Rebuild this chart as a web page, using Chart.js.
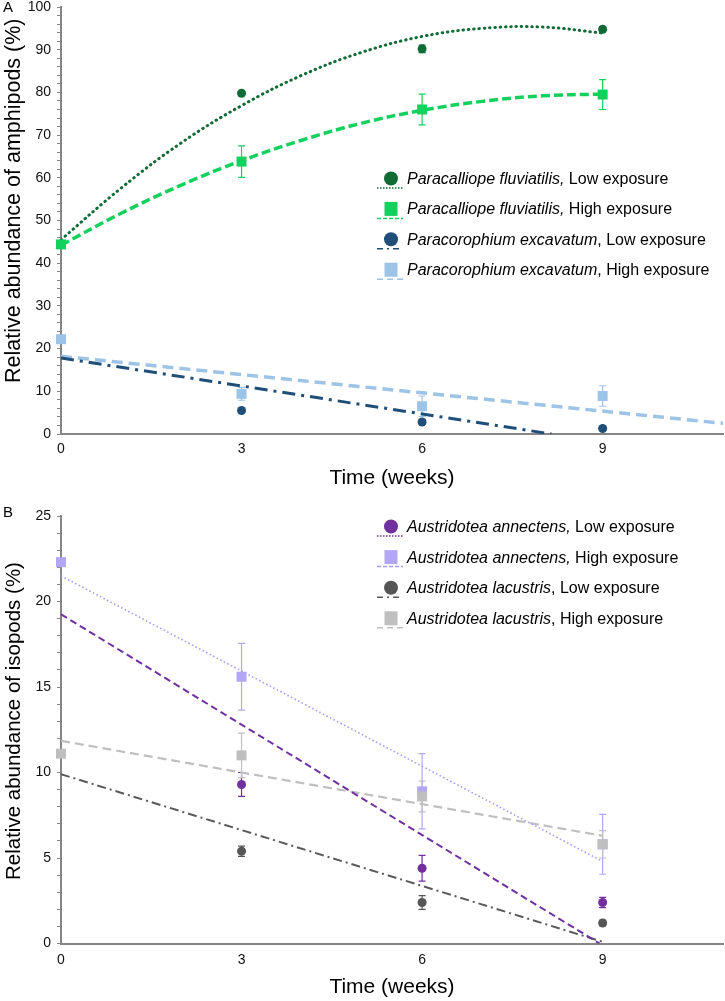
<!DOCTYPE html>
<html>
<head>
<meta charset="utf-8">
<script src="https://cdn.jsdelivr.net/npm/chart.js@4.4.1/dist/chart.umd.min.js"></script>
<style>
  html, body { margin: 0; padding: 0; background: #fff; }
  #wrap { position: relative; width: 725px; height: 1001px; }
  #chartA { position: absolute; left: 0; top: 0; }
  #chartB { position: absolute; left: 0; top: 500px; }
</style>
</head>
<body>
<div id="wrap">
  <canvas id="chartA" width="725" height="495"></canvas>
  <canvas id="chartB" width="725" height="501"></canvas>
</div>
<script>
// Sampling weeks and x tick labels
const weeks = [0, 3, 6, 9];
const xTicks = [0, 3, 6, 9];
const trendWeeks = [0, 1, 2, 3, 4, 5, 6, 7, 8, 9];

// Panel A - amphipods (%), with +/- error
const fluvLow = [44.5, 79.8, 90.2, 94.8];
const fluvLowErr = [0, 0.5, 0.9, 0.6];
const fluvLowTrend = [45.5, 57.6, 68.2, 76.9, 84.0, 89.4, 93.1, 95.0, 95.3, 93.9];

const fluvHigh = [44.4, 63.8, 76.0, 79.5];
const fluvHighErr = [0, 3.7, 3.6, 3.5];
const fluvHighTrend = [44.2, 51.7, 58.3, 64.0, 68.8, 72.8, 75.8, 77.9, 79.2, 79.6];

const excavLow = [22.2, 5.5, 2.8, 1.3];
const excavLowErr = [0, 0.5, 0.5, 0.3];
const excavLowTrendX = [0, 8.15];
const excavLowTrend = [17.8, 0];

const excavHigh = [22.2, 9.4, 6.5, 8.9];
const excavHighErr = [0, 1.5, 2.4, 2.4];
const excavHighTrendX = [0, 11];
const excavHighTrend = [18.2, 2.5];

// Panel B - isopods (%)
const annLow = [22.3, 9.3, 4.4, 2.4];
const annLowErr = [0, 0.7, 0.75, 0.3];
const annLowTrendX = [0, 8.95];
const annLowTrend = [19.25, 0];

const annHigh = [22.3, 15.6, 8.9, 5.8];
const annHighErr = [0, 1.95, 2.2, 1.75];
const annHighTrendX = [0, 9];
const annHighTrend = [21.5, 4.8];

const lacLow = [11.1, 5.4, 2.4, 1.2];
const lacLowErr = [0, 0.3, 0.4, 0.15];
const lacLowTrendX = [0, 9];
const lacLowTrend = [9.9, 0.1];

const lacHigh = [11.1, 11.0, 8.6, 5.8];
const lacHighErr = [0, 1.3, 0.9, 0.8];
const lacHighTrendX = [0, 9];
const lacHighTrend = [11.85, 6.3];

const FONT = "'Liberation Sans', Arial, sans-serif";
const AXIS_GREY = '#868686';

function toPoints(xs, ys) {
  return xs.map((x, i) => ({ x: x, y: ys[i] }));
}

// draws +/- error bars under the markers
const errorBarPlugin = {
  id: 'errorBars',
  beforeDatasetsDraw(chart) {
    const ctx = chart.ctx;
    const xs = chart.scales.x;
    const ys = chart.scales.y;
    chart.data.datasets.forEach(ds => {
      if (!ds.errors) return;
      ctx.save();
      ctx.strokeStyle = ds.backgroundColor;
      ctx.lineWidth = 1.2;
      ds.data.forEach((p, i) => {
        const e = ds.errors[i];
        if (!e) return;
        const px = xs.getPixelForValue(p.x);
        const top = ys.getPixelForValue(p.y + e);
        const bot = ys.getPixelForValue(Math.max(p.y - e, 0));
        ctx.beginPath();
        ctx.moveTo(px, top); ctx.lineTo(px, bot);
        ctx.moveTo(px - 3.5, top); ctx.lineTo(px + 3.5, top);
        ctx.moveTo(px - 3.5, bot); ctx.lineTo(px + 3.5, bot);
        ctx.stroke();
      });
      ctx.restore();
    });
  }
};

// panel letter, y title and legend with italic species names
const legendPlugin = {
  id: 'speciesLegend',
  afterDraw(chart, args, opts) {
    const ctx = chart.ctx;
    ctx.save();
    ctx.fillStyle = '#000';
    ctx.font = '15px ' + FONT;
    ctx.textBaseline = 'middle';
    ctx.textAlign = 'left';
    ctx.fillText(opts.letter, 3, opts.letterY);

    // rotated y-axis title
    ctx.save();
    ctx.font = opts.yTitleSize + 'px ' + FONT;
    ctx.textBaseline = 'alphabetic';
    ctx.translate(20, opts.yTitleStart);
    ctx.rotate(-Math.PI / 2);
    ctx.fillText(opts.yTitle, 0, 0);
    ctx.restore();

    opts.items.forEach((it, i) => {
      const y = opts.y + i * opts.spacing;
      const mx = opts.x;
      // line sample
      ctx.strokeStyle = it.lineColor;
      ctx.lineWidth = 1.5;
      ctx.setLineDash(it.legendDash);
      ctx.beginPath();
      ctx.moveTo(mx - 14, y + 8.5);
      ctx.lineTo(mx + 12, y + 8.5);
      ctx.stroke();
      ctx.setLineDash([]);
      // marker
      ctx.fillStyle = it.color;
      if (it.style === 'circle') {
        ctx.beginPath();
        ctx.arc(mx, y - 1, 7, 0, Math.PI * 2);
        ctx.fill();
      } else {
        ctx.fillRect(mx - 6.5, y - 8, 13, 14);
      }
      // text
      ctx.fillStyle = '#000';
      ctx.font = 'italic 16px ' + FONT;
      ctx.fillText(it.name, opts.textX, y);
      const w = ctx.measureText(it.name).width;
      ctx.font = '16px ' + FONT;
      ctx.fillText(it.suffix, opts.textX + w, y);
    });
    ctx.restore();
  }
};

function makePanel(canvas, p) {
  const datasets = [];
  p.series.forEach((s, i) => {
    datasets.push({
      type: 'line',
      data: toPoints(s.trendX, s.trendY),
      borderColor: s.lineColor,
      borderWidth: s.lineWidth,
      borderDash: s.dash,
      borderCapStyle: s.cap || 'butt',
      tension: s.tension || 0,
      pointRadius: 0,
      fill: false,
      order: 10 + i
    });
    datasets.push({
      type: 'scatter',
      data: toPoints(weeks, s.values),
      errors: s.errors,
      backgroundColor: s.color,
      borderColor: s.color,
      borderWidth: 0,
      clip: false,
      pointStyle: s.style === 'circle' ? 'circle' : 'rect',
      pointRadius: s.style === 'circle' ? s.size / 2 : s.size / Math.SQRT2,
      order: 5 - i
    });
  });

  return new Chart(canvas, {
    data: { datasets: datasets },
    plugins: [errorBarPlugin, legendPlugin],
    options: {
      responsive: false,
      devicePixelRatio: 1,
      animation: false,
      layout: { autoPadding: false, padding: { top: p.padTop, right: 2, left: 0, bottom: 0 } },
      plugins: {
        legend: { display: false },
        tooltip: { enabled: false },
        speciesLegend: {
          items: p.series, x: 391, textX: 407, y: p.legendY, spacing: p.legendSpacing,
          letter: p.letter, letterY: p.letterY,
          yTitle: p.yTitle, yTitleStart: p.yTitleStart, yTitleSize: p.yTitleSize
        }
      },
      scales: {
        x: {
          type: 'linear', min: 0, max: 11,
          afterBuildTicks: sc => { sc.ticks = xTicks.map(v => ({ value: v })); },
          afterFit: sc => { sc.height = p.xHeight; sc.paddingLeft = 0; sc.paddingRight = 0; },
          ticks: { font: { family: FONT, size: 14 }, color: '#111', padding: p.xTickPad, maxRotation: 0 },
          grid: { drawOnChartArea: false, drawTicks: false },
          border: { color: AXIS_GREY, width: 2 },
          title: {
            display: true, text: 'Time (weeks)', color: '#000',
            font: { family: FONT, size: 21 }, padding: { top: 0, bottom: p.xTitlePad }
          }
        },
        y: {
          type: 'linear', min: 0, max: p.yMax,
          afterBuildTicks: sc => {
            const t = [];
            for (let v = 0; v <= p.yMax; v += p.yMinor) t.push({ value: v });
            sc.ticks = t;
          },
          afterFit: sc => { sc.width = 61; sc.paddingTop = 0; sc.paddingBottom = 0; },
          ticks: {
            font: { family: FONT, size: 14 }, color: '#111', padding: 6, autoSkip: false,
            callback: v => (v % p.yMajor === 0 ? String(v) : '')
          },
          grid: { drawOnChartArea: false, drawTicks: true, tickLength: 4, color: AXIS_GREY, tickWidth: 1 },
          border: { color: AXIS_GREY, width: 2 },
          title: { display: false }
        }
      }
    }
  });
}

makePanel(document.getElementById('chartA'), {
  letter: 'A', letterY: 8,
  yMax: 100, yMajor: 10, yMinor: 2,
  yTitle: 'Relative abundance of amphipods (%)', yTitleStart: 383, yTitleSize: 21.5,
  padTop: 7, xHeight: 61, xTickPad: 7, xTitlePad: 4,
  legendY: 179.5, legendSpacing: 30.4,
  series: [
    { name: 'Paracalliope fluviatilis,', suffix: ' Low exposure', style: 'circle', size: 9,
      color: '#116b37', values: fluvLow, errors: fluvLowErr,
      trendX: trendWeeks, trendY: fluvLowTrend, tension: 0.4,
      lineColor: '#116b37', lineWidth: 3, dash: [0.5, 4.8], cap: 'round', legendDash: [1.5, 1.5] },
    { name: 'Paracalliope fluviatilis,', suffix: ' High exposure', style: 'rect', size: 10,
      color: '#14d05c', values: fluvHigh, errors: fluvHighErr,
      trendX: trendWeeks, trendY: fluvHighTrend, tension: 0.4,
      lineColor: '#14d05c', lineWidth: 3.5, dash: [9, 4], legendDash: [4, 2] },
    { name: 'Paracorophium excavatum', suffix: ', Low exposure', style: 'circle', size: 9,
      color: '#1f4e79', values: excavLow, errors: excavLowErr,
      trendX: excavLowTrendX, trendY: excavLowTrend,
      lineColor: '#1f4e79', lineWidth: 3, dash: [13, 6, 3, 6], legendDash: [6, 4, 2, 4] },
    { name: 'Paracorophium excavatum', suffix: ', High exposure', style: 'rect', size: 10,
      color: '#9dc3e6', values: excavHigh, errors: excavHighErr,
      trendX: excavHighTrendX, trendY: excavHighTrend,
      lineColor: '#9dc3e6', lineWidth: 3.5, dash: [11, 6], legendDash: [6, 4] }
  ]
});

makePanel(document.getElementById('chartB'), {
  letter: 'B', letterY: 13,
  yMax: 25, yMajor: 5, yMinor: 1,
  yTitle: 'Relative abundance of isopods (%)', yTitleStart: 380, yTitleSize: 20.5,
  padTop: 16, xHeight: 57.5, xTickPad: 8.5, xTitlePad: 1,
  legendY: 27.5, legendSpacing: 30.6,
  series: [
    { name: 'Austridotea annectens,', suffix: ' Low exposure', style: 'circle', size: 9,
      color: '#7030a0', values: annLow, errors: annLowErr,
      trendX: annLowTrendX, trendY: annLowTrend,
      lineColor: '#7030a0', lineWidth: 2, dash: [7, 4], legendDash: [1.5, 1.5] },
    { name: 'Austridotea annectens,', suffix: ' High exposure', style: 'rect', size: 10,
      color: '#b3a6f4', values: annHigh, errors: annHighErr,
      trendX: annHighTrendX, trendY: annHighTrend,
      lineColor: '#a39af5', lineWidth: 1.6, dash: [1.5, 2.5], legendDash: [4, 2] },
    { name: 'Austridotea lacustris', suffix: ', Low exposure', style: 'circle', size: 9,
      color: '#555555', values: lacLow, errors: lacLowErr,
      trendX: lacLowTrendX, trendY: lacLowTrend,
      lineColor: '#595959', lineWidth: 2, dash: [9, 4, 2, 4], legendDash: [6, 4, 2, 4] },
    { name: 'Austridotea lacustris', suffix: ', High exposure', style: 'rect', size: 10,
      color: '#bfbfbf', values: lacHigh, errors: lacHighErr,
      trendX: lacHighTrendX, trendY: lacHighTrend,
      lineColor: '#bfbfbf', lineWidth: 2.2, dash: [9, 5], legendDash: [6, 4] }
  ]
});
</script>
</body>
</html>
